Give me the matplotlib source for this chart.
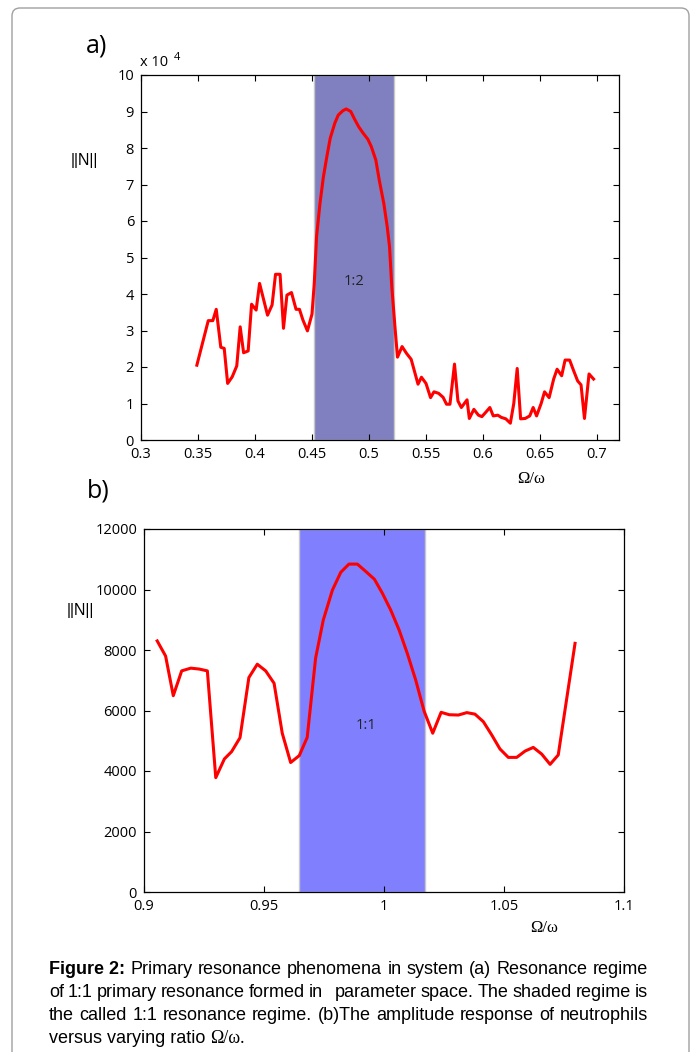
import numpy as np
import matplotlib
matplotlib.use("Agg")
import matplotlib.pyplot as plt
from matplotlib.patches import FancyBboxPatch

# panel a: ||N|| (in units of 1e4) against Omega/omega
top_ratio = [0.349, 0.359, 0.363, 0.366, 0.370, 0.373, 0.376, 0.380, 0.384, 0.387,
             0.390, 0.394, 0.397, 0.401, 0.404, 0.411, 0.415, 0.418, 0.422, 0.425,
             0.428, 0.432, 0.436, 0.439, 0.442, 0.446, 0.450, 0.452, 0.454, 0.457,
             0.460, 0.463, 0.466, 0.470, 0.473, 0.477, 0.480, 0.484, 0.487, 0.491,
             0.495, 0.499, 0.502, 0.506, 0.509, 0.513, 0.516, 0.518, 0.520, 0.523,
             0.525, 0.529, 0.533, 0.537, 0.543, 0.546, 0.550, 0.554, 0.557, 0.561,
             0.565, 0.568, 0.571, 0.575, 0.578, 0.581, 0.586, 0.588, 0.592, 0.596,
             0.599, 0.603, 0.606, 0.609, 0.613, 0.616, 0.620, 0.624, 0.627, 0.630,
             0.633, 0.637, 0.641, 0.644, 0.647, 0.651, 0.654, 0.658, 0.662, 0.665,
             0.669, 0.672, 0.676, 0.679, 0.683, 0.686, 0.689, 0.693, 0.697]
top_norm = [2.05, 3.27, 3.27, 3.58, 2.54, 2.51, 1.55, 1.73, 2.03, 3.10,
            2.39, 2.44, 3.72, 3.56, 4.29, 3.42, 3.70, 4.54, 4.54, 3.06,
            3.97, 4.04, 3.58, 3.58, 3.29, 2.99, 3.45, 4.30, 5.57, 6.48,
            7.21, 7.76, 8.27, 8.68, 8.90, 9.02, 9.07, 9.00, 8.81, 8.58,
            8.40, 8.24, 8.04, 7.67, 7.12, 6.48, 5.84, 5.30, 4.20, 3.01,
            2.27, 2.56, 2.37, 2.21, 1.53, 1.72, 1.55, 1.16, 1.32, 1.28,
            1.17, 0.98, 0.98, 2.08, 1.07, 0.89, 1.10, 0.59, 0.84, 0.68,
            0.64, 0.78, 0.89, 0.66, 0.68, 0.62, 0.58, 0.46, 1.00, 1.96,
            0.58, 0.59, 0.66, 0.89, 0.66, 1.00, 1.32, 1.16, 1.67, 1.94,
            1.76, 2.19, 2.19, 1.94, 1.62, 1.51, 0.59, 1.81, 1.67]
top_band = (0.452, 0.5215)
top_xticks = [0.3, 0.35, 0.4, 0.45, 0.5, 0.55, 0.6, 0.65, 0.7]
top_xlabels = ["0.3", "0.35", "0.4", "0.45", "0.5", "0.55", "0.6", "0.65", "0.7"]

# panel b
bot_ratio = [0.9055, 0.909, 0.9122, 0.9157, 0.9195, 0.923, 0.9264, 0.9299, 0.9335, 0.9365,
             0.94, 0.9437, 0.9472, 0.9507, 0.9542, 0.9576, 0.9611, 0.9647, 0.968, 0.9715,
             0.9747, 0.9785, 0.982, 0.9854, 0.9889, 0.9925, 0.996, 0.9993, 1.0028, 1.0063,
             1.0097, 1.0132, 1.0167, 1.0203, 1.0238, 1.0272, 1.031, 1.0345, 1.0379, 1.0414,
             1.0449, 1.0483, 1.0518, 1.0553, 1.0588, 1.0622, 1.0657, 1.0692, 1.0726, 1.0796]
bot_norm = [8300, 7800, 6490, 7310, 7400, 7370, 7310, 3780, 4400, 4640,
            5100, 7090, 7530, 7310, 6900, 5250, 4280, 4510, 5110, 7730,
            8990, 9980, 10570, 10840, 10840, 10590, 10340, 9880, 9320, 8660,
            7890, 7010, 5980, 5250, 5940, 5860, 5850, 5930, 5880, 5630,
            5190, 4730, 4450, 4450, 4660, 4780, 4560, 4220, 4530, 8220]
bot_band = (0.9647, 1.0172)
bot_xticks = [0.9, 0.95, 1.0, 1.05, 1.1]
bot_xlabels = ["0.9", "0.95", "1", "1.05", "1.1"]

caption_lines = [
    "Primary resonance phenomena in system (a) Resonance regime",
    "of 1:1 primary resonance formed in   parameter space. The shaded regime is",
    "the called 1:1 resonance regime. (b)The amplitude response of neutrophils",
]
caption_last = "versus varying ratio "

W, H = 694, 1052
plt.rcParams['font.family'] = ['Open Sans', 'DejaVu Sans']
fig = plt.figure(figsize=(W / 100, H / 100), dpi=100)


def style_axes(ax):
    ax.tick_params(direction='in', top=True, right=True, length=4, width=0.8,
                   labelsize=10.5, pad=5, colors='black')
    for s in ax.spines.values():
        s.set_linewidth(0.9)


# --- panel a
ax1 = fig.add_axes([141 / W, 1 - 440 / H, 478 / W, 365 / H])
ax1.axvspan(top_band[0], top_band[1], facecolor='#8080c0', edgecolor='#c8c8c8', lw=1)
ax1.plot(top_ratio, top_norm, color='red', lw=2.2)
ax1.set_xlim(0.3, 0.7193)
ax1.set_ylim(0, 10)
ax1.set_xticks(top_xticks)
ax1.set_xticklabels(top_xlabels)
ax1.set_yticks(range(0, 11))
style_axes(ax1)
ax1.text(0.487, 4.35, "1:2", ha='center', va='center', fontsize=10.5, color='#222222')

# --- panel b
ax2 = fig.add_axes([144 / W, 1 - 892 / H, 480 / W, 363 / H])
ax2.axvspan(bot_band[0], bot_band[1], facecolor='#8080ff', edgecolor='#c8c8c8', lw=1)
ax2.plot(bot_ratio, bot_norm, color='red', lw=2.2)
ax2.set_xlim(0.9, 1.1)
ax2.set_ylim(0, 12000)
ax2.set_xticks(bot_xticks)
ax2.set_xticklabels(bot_xlabels)
ax2.set_yticks(range(0, 12001, 2000))
style_axes(ax2)
ax2.text(0.9925, 5500, "1:1", ha='center', va='center', fontsize=10.5, color='#222222')


def fig_text(x, y, s, **kw):
    # x, y in pixels from the top-left corner
    return fig.text(x / W, 1 - y / H, s, **kw)


fig_text(97, 46, "a)", ha='center', va='center', fontsize=18)
fig_text(98, 491, "b)", ha='center', va='center', fontsize=18)
fig_text(140, 63, "x 10", ha='left', va='center', fontsize=10.5)
fig_text(174, 57, "4", ha='left', va='center', fontsize=8)
fig_text(84, 161, "||N||", ha='center', va='center', fontsize=11.5, family='Liberation Sans')
fig_text(80, 611, "||N||", ha='center', va='center', fontsize=11.5, family='Liberation Sans')
fig_text(531, 479, "Ω/ω", ha='center', va='center', fontsize=12, family='Liberation Serif')
fig_text(544, 928, "Ω/ω", ha='center', va='center', fontsize=12, family='Liberation Serif')

# --- caption, justified between two pixel columns
renderer = fig.canvas.get_renderer()
cap_left, cap_right = 49, 648
cap_base = [974, 997, 1020, 1043]
cap_fam = ['Liberation Sans Narrow', 'Liberation Sans']
cap_kw = dict(fontsize=13, family=cap_fam, va='baseline', ha='left')


def width_px(t):
    return t.get_window_extent(renderer).width


def justify(words, y, x0=cap_left, x1=cap_right, bold_first=None):
    items = []
    if bold_first:
        items.append(fig_text(x0, y, bold_first, fontweight='bold', **cap_kw))
    for w in words:
        items.append(fig_text(x0, y, w, **cap_kw))
    widths = [width_px(t) for t in items]
    gap = (x1 - x0 - sum(widths)) / (len(items) - 1)
    x = x0
    for t, w in zip(items, widths):
        t.set_x(x / W)
        x += w + gap


justify(caption_lines[0].split(' '), cap_base[0], bold_first="Figure 2:")
justify(caption_lines[1].split(' '), cap_base[1])
justify(caption_lines[2].split(' '), cap_base[2])
t = fig_text(cap_left, cap_base[3], caption_last, **cap_kw)
fig_text(cap_left + width_px(t), cap_base[3], "Ω/ω.", fontsize=13,
         family='Liberation Serif', va='baseline', ha='left')

# rounded page frame
frame = FancyBboxPatch((0.12, -0.5), 6.77, 10.44 + 0.5,
                       boxstyle="round,pad=0,rounding_size=0.08",
                       transform=fig.dpi_scale_trans, facecolor='none',
                       edgecolor='#a0a0a0', lw=1.0)
fig.patches.append(frame)

fig.savefig("out.png", dpi=100)
